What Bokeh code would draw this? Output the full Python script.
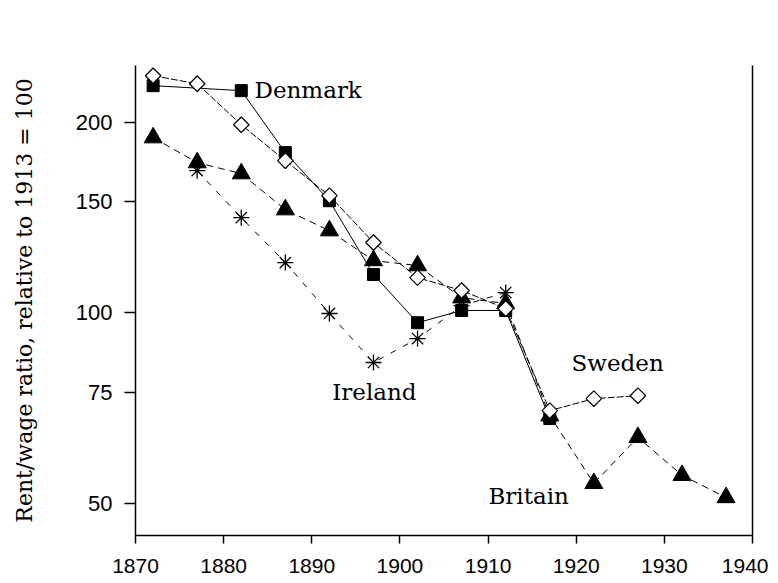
from bokeh.plotting import figure
from bokeh.models import Range1d, FixedTicker, LogAxis, Label, BasicTickFormatter
from bokeh.embed import file_html
from bokeh.resources import INLINE
import numpy as np

# ---- data ----
sweden_years = [1872, 1877, 1882, 1887, 1892, 1897, 1902, 1907, 1912, 1917, 1922, 1927]
sweden_vals = [237.0, 230.2, 198.3, 174.0, 153.2, 129.2, 113.7, 108.5, 101.6, 70.1, 73.2, 74.0]

denmark_years = [1872, 1882, 1887, 1892, 1897, 1902, 1907, 1912, 1917]
denmark_vals = [228.6, 224.5, 179.2, 150.4, 115.0, 96.5, 100.9, 100.9, 68.1]

britain_years = [1872, 1877, 1882, 1887, 1892, 1897, 1902, 1907, 1912, 1917, 1922, 1927, 1932, 1937]
britain_vals = [189.2, 172.8, 166.0, 145.6, 134.9, 121.0, 118.8, 105.7, 103.5, 68.8, 53.8, 63.6, 55.4, 51.1]

ireland_years = [1877, 1882, 1887, 1892, 1897, 1902, 1907, 1912]
ireland_vals = [167.8, 141.4, 120.1, 99.8, 83.5, 91.1, 102.7, 107.7]

x_ticks = [1870, 1880, 1890, 1900, 1910, 1920, 1930, 1940]
y_ticks = [50, 75, 100, 150, 200]
y_title = "Rent/wage ratio, relative to 1913 = 100"

SERIF = "DejaVu Serif"

p = figure(width=768, height=583, output_backend="svg", toolbar_location=None,
           y_axis_type="log", x_range=Range1d(1870, 1940), y_range=Range1d(44.5, 246),
           min_border_left=135, min_border_top=65, min_border_right=16, min_border_bottom=48)
p.grid.visible = False
p.outline_line_color = None
p.background_fill_color = "white"
p.border_fill_color = "white"

# axes
for ax in (p.xaxis[0], p.yaxis[0]):
    ax.axis_line_color = "black"
    ax.axis_line_width = 1.5
    ax.major_tick_line_color = "black"
    ax.major_tick_line_width = 1.5
    ax.minor_tick_line_color = None
    ax.major_tick_in = 0
    ax.major_label_text_color = "black"

p.xaxis.ticker = FixedTicker(ticks=x_ticks)
p.xaxis.major_tick_out = 8
p.xaxis.major_label_standoff = 15
p.xaxis.major_label_text_font = "Liberation Sans"
p.xaxis.major_label_text_font_size = "21px"

p.yaxis.ticker = FixedTicker(ticks=y_ticks)
p.yaxis.formatter = BasicTickFormatter()
p.yaxis.major_tick_out = 11
p.yaxis.major_label_standoff = 12
p.yaxis.major_label_text_font = "Liberation Sans"
p.yaxis.major_label_text_font_size = "22px"

yax = p.yaxis[0]
yax.axis_label = y_title
yax.axis_label_standoff = 36
yax.axis_label_text_font = SERIF
yax.axis_label_text_font_size = "22px"
yax.axis_label_text_font_style = "normal"
yax.axis_label_text_color = "black"

right = LogAxis(ticker=FixedTicker(ticks=[]), formatter=BasicTickFormatter(),
                axis_line_color="black", axis_line_width=1.5,
                major_tick_line_color=None, minor_tick_line_color=None,
                major_label_text_font_size="0px")
p.add_layout(right, "right")

# lines
p.line(denmark_years, denmark_vals, line_color="black", line_width=1)
p.line(sweden_years, sweden_vals, line_color="black", line_width=1, line_dash="7 2")
p.line(britain_years, britain_vals, line_color="black", line_width=1, line_dash="7 5")
p.line(ireland_years, ireland_vals, line_color="black", line_width=1, line_dash="6 8")

# markers
p.scatter(denmark_years, denmark_vals, marker="square", size=12, fill_color="black", line_color="black")
p.scatter(britain_years, britain_vals, marker="triangle", size=18, fill_color="black", line_color="black")
p.scatter(ireland_years, ireland_vals, marker="asterisk", size=16, line_color="black", line_width=1.3)
p.scatter(sweden_years, sweden_vals, marker="square", angle=np.pi / 4, size=11,
          fill_color="white", line_color="black", line_width=1.2)

# series labels
labels = [("Denmark", 1883.5, 225, "left"), ("Ireland", 1897.1, 74.9, "center"),
          ("Sweden", 1924.7, 83.2, "center"), ("Britain", 1914.6, 51.3, "center")]
for txt, lx, ly, al in labels:
    p.add_layout(Label(x=lx, y=ly, text=txt, text_align=al, text_baseline="middle",
                       text_font=SERIF, text_font_size="23px", text_color="black"))

open("out.html", "w").write(file_html(p, INLINE))
